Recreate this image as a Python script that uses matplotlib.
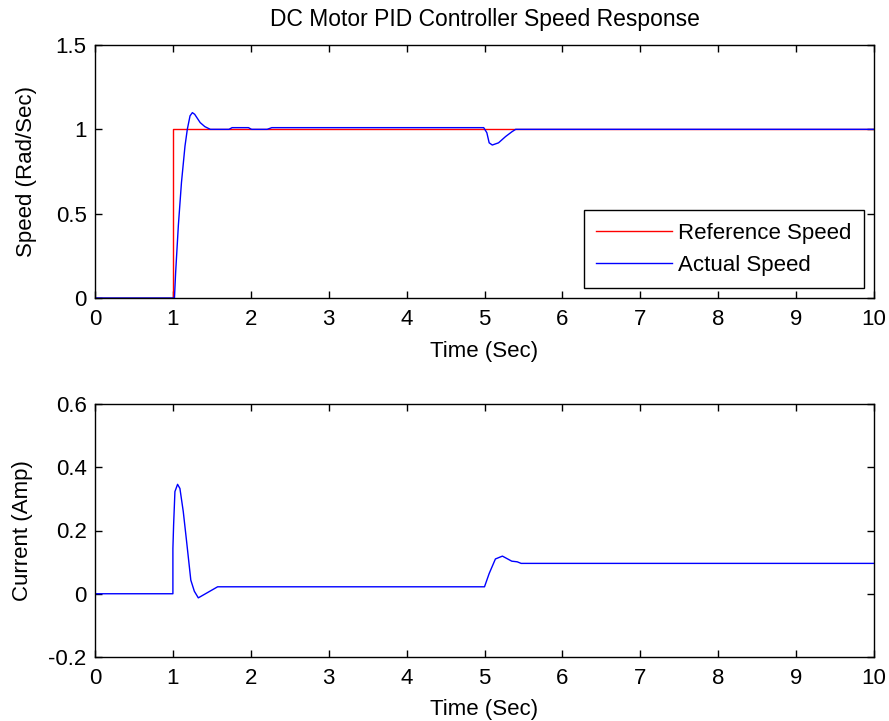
import matplotlib
matplotlib.use('Agg')
import matplotlib.pyplot as plt

# Reference speed (step at t = 1 s)
t_ref = [0, 1.0, 1.0, 10]
speed_ref = [0, 0, 1.0, 1.0]

# Actual speed response
t_speed = [0, 1.02, 1.035, 1.07, 1.11, 1.155, 1.185, 1.22, 1.25, 1.28, 1.35, 1.41, 1.48,
           1.72, 1.76, 1.97, 2.01, 2.21, 2.27, 4.96, 4.99, 5.03, 5.06, 5.10, 5.18, 5.27,
           5.35, 5.40, 10]
speed = [0, 0, 0.15, 0.43, 0.685, 0.90, 1.0, 1.08, 1.099, 1.089, 1.04, 1.016, 1.0,
         1.0, 1.01, 1.01, 1.0, 1.0, 1.01, 1.01, 1.01, 0.98, 0.92, 0.907, 0.92, 0.957,
         0.985, 1.0, 1.0]

# Motor current
t_current = [0, 1.0, 1.0, 1.009, 1.026, 1.06, 1.09, 1.133, 1.176, 1.23, 1.275, 1.326, 1.574,
             5.0, 5.06, 5.14, 5.23, 5.35, 5.42, 5.47, 10]
current = [0, 0, 0.143, 0.217, 0.323, 0.346, 0.333, 0.26, 0.165, 0.043, 0.008, -0.013, 0.022,
           0.022, 0.064, 0.11, 0.119, 0.103, 0.101, 0.096, 0.096]

x_ticks = list(range(0, 11))
speed_ticks = [0, 0.5, 1.0, 1.5]
speed_labels = ['0', '0.5', '1', '1.5']
current_ticks = [-0.2, 0, 0.2, 0.4, 0.6]
current_labels = ['-0.2', '0', '0.2', '0.4', '0.6']

plt.rcParams['font.family'] = ['Liberation Sans', 'DejaVu Sans']
plt.rcParams['font.size'] = 16

fig = plt.figure(figsize=(8.89, 7.21), dpi=100)
ax1 = fig.add_axes([95 / 889, 1 - 298 / 721, 779 / 889, 253 / 721])
ax2 = fig.add_axes([95 / 889, 1 - 657 / 721, 779 / 889, 253 / 721])

# Vitesse
ax1.plot(t_ref, speed_ref, color='red', lw=1.0, label='Reference Speed')
ax1.plot(t_speed, speed, color='blue', lw=1.0, label='Actual Speed')
ax1.set_xlim(0, 10)
ax1.set_ylim(0, 1.5)
ax1.set_xticks(x_ticks)
ax1.set_yticks(speed_ticks)
ax1.set_yticklabels(speed_labels)
ax1.set_xlabel('Time (Sec)', labelpad=8)
ax1.set_ylabel('Speed (Rad/Sec)')
ax1.yaxis.set_label_coords(-0.0745, 0.5)
ax1.set_title('DC Motor PID Controller Speed Response', fontsize=16.5, pad=14)
leg = ax1.legend(loc='lower right', fontsize=16, frameon=True, fancybox=False,
                 edgecolor='black', framealpha=1, borderaxespad=0.45,
                 handlelength=3.4, handletextpad=0.3, labelspacing=0.5, borderpad=0.55)
leg.get_frame().set_linewidth(1.0)

# Courant
ax2.plot(t_current, current, color='blue', lw=1.0)
ax2.set_xlim(0, 10)
ax2.set_ylim(-0.2, 0.6)
ax2.set_xticks(x_ticks)
ax2.set_yticks(current_ticks)
ax2.set_yticklabels(current_labels)
ax2.set_xlabel('Time (Sec)', labelpad=7)
ax2.set_ylabel('Current (Amp)')
ax2.yaxis.set_label_coords(-0.0796, 0.5)

for ax in (ax1, ax2):
    ax.tick_params(direction='in', top=True, right=True, length=5, width=1, labelsize=16)
    ax.tick_params(axis='x', pad=8)
    ax.tick_params(axis='y', pad=6)
    for s in ax.spines.values():
        s.set_linewidth(1.0)

fig.savefig('out.png', dpi=100)
